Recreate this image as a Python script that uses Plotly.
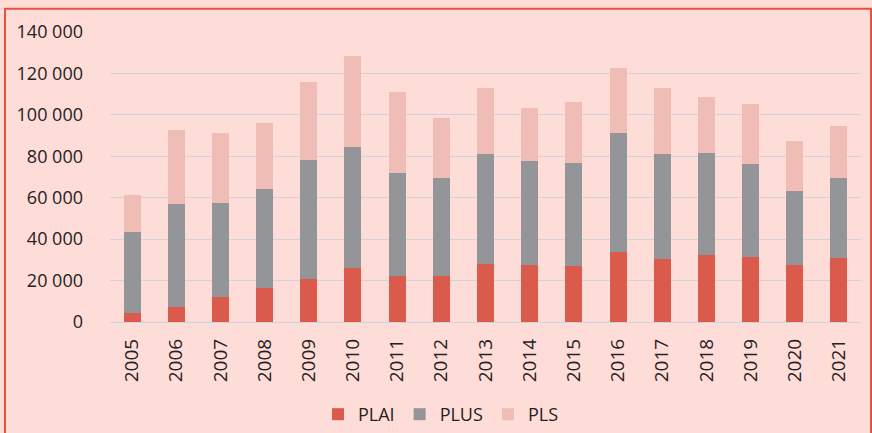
import plotly.graph_objects as go

# Years and stacked values (logements).
years = [str(y) for y in range(2005, 2022)]
plai = [4350, 7250, 12100, 16450, 20800, 26300, 22250, 22250, 28050,
        27400, 26800, 33850, 30200, 32400, 31450, 27400, 30800]
plus = [39050, 49700, 45300, 47750, 57300, 58200, 49700, 47250, 53250,
        50350, 50100, 57450, 50900, 49050, 44850, 35700, 38850]
pls = [17900, 35950, 33900, 31900, 37900, 44000, 39050, 29200, 31600,
       25650, 29200, 31400, 31800, 26950, 29000, 24300, 24850]

tick_vals = [0, 20000, 40000, 60000, 80000, 100000, 120000, 140000]
tick_text = ["0", "20 000", "40 000", "60 000", "80 000", "100 000",
             "120 000", "140 000"]

series = [
    ("PLAI", plai, "#da5a4b"),
    ("PLUS", plus, "#939598"),
    ("PLS", pls, "#f0bdb6"),
]

BG = "#fedcd7"
TEXT = "#262223"

fig = go.Figure()
for name, values, color in series:
    fig.add_trace(go.Bar(
        x=years,
        y=values,
        name=name,
        marker=dict(color=color, line=dict(width=0)),
    ))

# Red frame around the whole chart (paper coords relative to plot area).
plot_left, plot_right, plot_top, plot_bottom = 110, 861, 32.3, 321.7
w = plot_right - plot_left
h = plot_bottom - plot_top
fig.add_shape(
    type="rect", xref="paper", yref="paper",
    x0=(5 - plot_left) / w, x1=(871 - plot_left) / w,
    y0=-0.6, y1=(plot_bottom - 9) / h,
    line=dict(color="#e8503f", width=2),
    layer="below",
)

fig.update_layout(
    width=872,
    height=433,
    barmode="stack",
    bargap=0.615,
    paper_bgcolor=BG,
    plot_bgcolor=BG,
    margin=dict(l=plot_left, r=872 - plot_right, t=plot_top,
                b=433 - plot_bottom, autoexpand=False),
    font=dict(family="Open Sans", size=18, color=TEXT),
    xaxis=dict(
        tickangle=-90,
        showgrid=False,
        showline=False,
        ticks="",
        ticklabelstandoff=12,
        tickfont=dict(size=19),
    ),
    yaxis=dict(
        range=[0, 140000],
        tickvals=tick_vals,
        ticktext=tick_text,
        showgrid=True,
        gridcolor="#cdd3d8",
        gridwidth=1,
        zeroline=True,
        zerolinecolor="#cdd3d8",
        zerolinewidth=1,
        ticks="",
        ticklabelstandoff=26,
    ),
    legend=dict(
        orientation="h",
        traceorder="normal",
        x=(318 - plot_left) / w,
        xanchor="left",
        y=-(414 - plot_bottom) / h,
        yanchor="middle",
        bgcolor="rgba(0,0,0,0)",
        font=dict(size=18),
    ),
)

# Drop the default page margin so the figure sits at the window's corner.
fig.write_html(
    "out.html",
    config={"displayModeBar": False},
    post_script="document.body.style.margin = '0';",
)
